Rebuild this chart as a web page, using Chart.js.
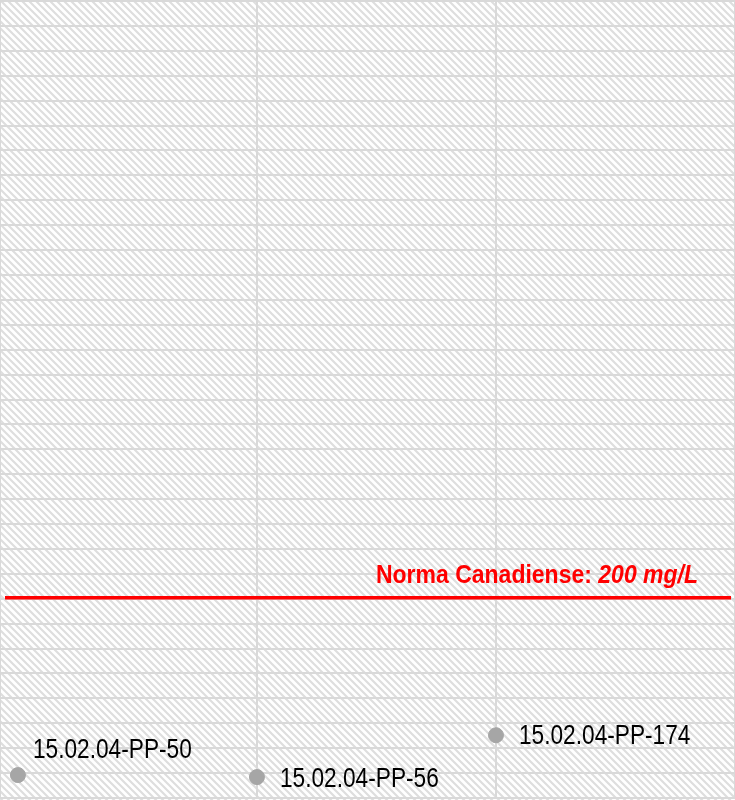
<!DOCTYPE html>
<html>
<head>
<meta charset="utf-8">
<script src="https://cdn.jsdelivr.net/npm/chart.js@4/dist/chart.umd.min.js"></script>
<style>
  body { margin: 0; background: #fff; }
  #wrap { width: 735px; height: 800px; position: relative; }
</style>
</head>
<body>
<div id="wrap"><canvas id="myChart"></canvas></div>
<script>
// sample ids and their values (mg/L)
const sampleLabels = ["15.02.04-PP-50", "15.02.04-PP-56", "15.02.04-PP-174"];
const sampleX = [0, 1, 2];
const sampleValues = [23, 21, 63];
const normaValue = 200;
const normaText = ["Norma Canadiense: ", "200 mg/L"];

const FONT = '"Liberation Sans", Arial, sans-serif';

// diagonal hatch fill for the plot area
function makeHatch(ctx) {
  const n = 7;
  const c = document.createElement("canvas");
  c.width = n; c.height = n;
  const p = c.getContext("2d");
  p.fillStyle = "#ffffff";
  p.fillRect(0, 0, n, n);
  p.strokeStyle = "#dedede";
  p.lineWidth = 2.2;
  p.beginPath();
  for (let k = -n; k <= n; k += n) {
    p.moveTo(k - 1, -1); p.lineTo(k + n + 1, n + 1);
  }
  p.stroke();
  return ctx.createPattern(c, "repeat");
}

const hatchPlugin = {
  id: "hatch",
  beforeDraw(chart) {
    const { ctx } = chart;
    ctx.save();
    ctx.fillStyle = makeHatch(ctx);
    ctx.fillRect(0, 0, chart.width, chart.height);
    ctx.restore();
  }
};

// narrow-looking text: squeeze horizontally
function drawNarrow(ctx, text, x, y, sx) {
  ctx.save();
  ctx.translate(x, y);
  ctx.scale(sx, 1);
  ctx.fillText(text, 0, 0);
  ctx.restore();
}

const normaPlugin = {
  id: "norma",
  afterDatasetsDraw(chart) {
    const { ctx, chartArea: a, scales } = chart;
    const y = scales.y.getPixelForValue(normaValue) - 1;
    ctx.save();
    ctx.strokeStyle = "#ff0000";
    ctx.lineWidth = 3.5;
    ctx.beginPath();
    ctx.moveTo(a.left + 5, y);
    ctx.lineTo(a.right - 4, y);
    ctx.stroke();

    const sx = 0.92;
    ctx.fillStyle = "#ff0000";
    ctx.textBaseline = "alphabetic";
    const fBold = "bold 25px " + FONT;
    const fItal = "italic bold 25px " + FONT;
    ctx.font = fItal;
    const w2 = ctx.measureText(normaText[1]).width * sx;
    ctx.font = fBold;
    const w1 = ctx.measureText(normaText[0]).width * sx;
    const right = a.right - 37;
    const base = y - 15;
    drawNarrow(ctx, normaText[0], right - w2 - w1, base, sx);
    ctx.font = fItal;
    drawNarrow(ctx, normaText[1], right - w2, base, sx);
    ctx.restore();
  }
};

const labelPlugin = {
  id: "pointLabels",
  afterDatasetsDraw(chart, args, opts) {
    const { ctx } = chart;
    const meta = chart.getDatasetMeta(0);
    ctx.save();
    ctx.fillStyle = "#000";
    ctx.font = "27px " + FONT;
    ctx.textBaseline = "middle";
    meta.data.forEach((pt, i) => {
      const off = opts.offsets[i];
      drawNarrow(ctx, sampleLabels[i], pt.x + off[0], pt.y + off[1], 0.84);
    });
    ctx.restore();
  }
};

const ctx = document.getElementById("myChart").getContext("2d");
new Chart(ctx, {
  type: "scatter",
  data: {
    datasets: [{
      data: sampleX.map((x, i) => ({ x: x, y: sampleValues[i] })),
      backgroundColor: "#a6a6a6",
      borderColor: "#a6a6a6",
      pointRadius: 7.5,
      pointHoverRadius: 7.5
    }]
  },
  options: {
    responsive: true,
    maintainAspectRatio: false,
    animation: false,
    layout: { autoPadding: false, padding: { top: 1, bottom: 2, left: 0, right: 0 } },
    plugins: {
      legend: { display: false },
      tooltip: { enabled: false },
      pointLabels: { offsets: [[15, -25], [23, 2], [23, 1]] }
    },
    scales: {
      x: {
        type: "linear",
        min: -0.075,
        max: 3,
        ticks: { display: false, stepSize: 1 },
        border: { display: false },
        grid: { color: "#d9d9d9", lineWidth: 2, drawTicks: false }
      },
      y: {
        min: 0,
        max: 800,
        ticks: { display: false, stepSize: 25 },
        border: { display: false },
        grid: { color: "#d9d9d9", lineWidth: 2, drawTicks: false }
      }
    }
  },
  plugins: [hatchPlugin, normaPlugin, labelPlugin]
});
</script>
</body>
</html>
